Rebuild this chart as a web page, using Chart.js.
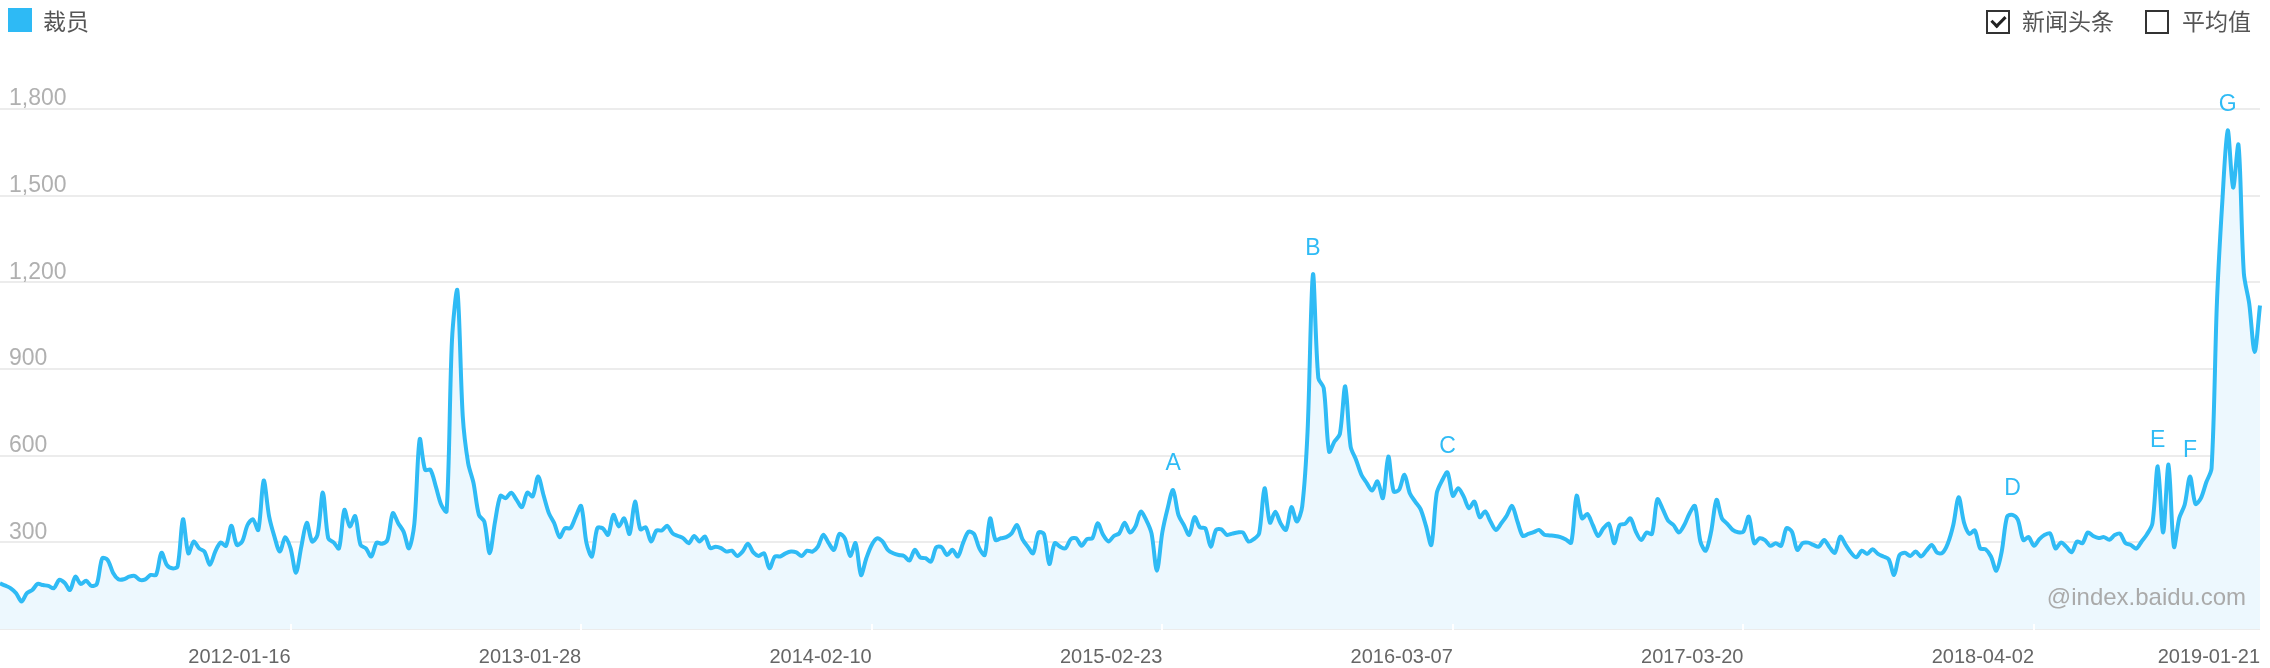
<!DOCTYPE html>
<html>
<head>
<meta charset="utf-8">
<script src="https://cdn.jsdelivr.net/npm/chart.js@4.4.1/dist/chart.umd.min.js"></script>
<style>
html,body{margin:0;padding:0;background:#fff;}
#wrap{position:relative;width:2270px;height:668px;overflow:hidden;font-family:"Liberation Sans",Arial,"Noto Sans CJK SC",sans-serif;}
#wrap canvas{position:absolute;left:0;top:0;}
.sq{position:absolute;left:8px;top:8px;width:24px;height:24px;background:#2ebaf5;}
.lg{position:absolute;top:7px;font-size:23px;line-height:26px;color:#555;font-family:"Noto Sans CJK SC",sans-serif;white-space:nowrap;}
.cb{position:absolute;top:10px;width:20px;height:20px;border:2px solid #333;background:#fff;}
.ck{position:absolute;left:6px;top:1px;width:6px;height:11px;border-right:3px solid #222;border-bottom:3px solid #222;transform:rotate(45deg);}
.wm{position:absolute;left:2040px;top:583px;width:206px;text-align:right;font-size:24px;color:#aaa;font-family:"Liberation Sans",Arial,sans-serif;}
</style>
</head>
<body>
<div id="wrap">
  <canvas id="c" width="2270" height="668"></canvas>
  <div class="sq"></div>
  <div class="lg" style="left:43px;">裁员</div>
  <div class="cb" style="left:1986px;"><div class="ck"></div></div>
  <div class="lg" style="left:2022px;">新闻头条</div>
  <div class="cb" style="left:2145px;"></div>
  <div class="lg" style="left:2182px;">平均值</div>
  <div class="wm">@index.baidu.com</div>
</div>
<script>
// ---- data (weekly search index for "裁员", from 2011-01-03) ----
const startDate = '2011-01-03';
const seriesName = '裁员';
const values2011 = [158,150,141,124,95,124,135,156,152,149,141,170,160,135,181,156,167,149,156,245,239,195,172,172,181,184,170,172,187,187,264,222,210,216,380,262,303,279,268,222,268,299,288,357,291,303,360,380,343,514,391,320,268,318];
const values2012 = [279,195,285,368,303,326,472,314,300,279,412,355,391,291,279,251,299,295,308,401,366,337,279,364,657,551,551,493,430,407,1001,1172,736,574,505,395,372,262,372,461,453,472,447,422,472,459,528,464,401,366,318,349,349,389];
const values2013 = [426,297,251,349,349,326,395,355,383,329,441,345,352,303,341,341,357,331,322,314,297,322,303,320,280,285,280,268,271,253,268,295,265,253,262,210,251,251,262,268,265,253,271,268,285,326,297,274,329,314,253,297,187,245];
const values2014 = [291,314,303,274,262,256,253,237,274,248,245,233,283,283,256,274,251,299,337,329,279,256,383,308,314,318,331,360,311,285,262,334,329,225,297,285,279,311,314,288,311,314,366,326,303,322,331,368,334,355,406,378,331,202];
const values2015 = [334,418,481,395,360,326,387,352,349,285,343,345,326,330,334,334,303,311,331,487,368,406,365,343,422,372,424,684,1227,869,834,614,649,675,840,632,586,534,505,479,511,453,597,476,482,534,470,441,415,357,291,470,514,542];
const values2016 = [461,487,459,418,441,387,407,372,343,366,392,426,372,322,329,335,343,326,324,322,318,310,299,461,383,398,360,322,349,364,297,360,364,383,337,308,334,329,449,415,375,360,334,360,401,426,303,271,337,447,383,364,343,335];
const values2017 = [337,389,297,314,308,288,297,288,349,337,274,297,299,291,285,308,283,264,320,291,264,248,271,260,276,260,251,241,187,256,264,253,268,251,271,291,264,264,297,360,456,368,329,341,279,276,251,202,268,389,395,378,308,318];
const values2018 = [288,311,326,331,279,299,285,266,303,297,334,322,315,318,309,325,330,297,291,278,303,328,365,563,334,569,285,384,430,528,433,452,507,557,1132,1480,1726,1528,1676,1231,1126,959,1120];
const seriesValues = [].concat(values2011, values2012, values2013, values2014, values2015, values2016, values2017, values2018);

const tickLabels = ['2012-01-16','2013-01-28','2014-02-10','2015-02-23','2016-03-07','2017-03-20','2018-04-02','2019-01-21'];
const yTicks = [0, 300, 600, 900, 1200, 1500, 1800];
const newsLetters = ['A','B','C','D','E','F','G'];
const newsWeeks = [218, 244, 269, 374, 401, 407, 414];

// categories: one per week
const categories = [];
(function(){
  const d0 = new Date(startDate + 'T00:00:00Z');
  for (let i = 0; i < seriesValues.length; i++) {
    const d = new Date(d0.getTime() + i * 7 * 86400000);
    categories.push(d.toISOString().slice(0, 10));
  }
})();
const tickSet = new Set(tickLabels);

const LINE = '#2fbbf5';
const FONT = '"Liberation Sans", Arial, sans-serif';

const newsPlugin = {
  id: 'news',
  afterDatasetsDraw(chart) {
    const {ctx, scales: {x, y}} = chart;
    ctx.save();
    ctx.font = '23px ' + FONT;
    ctx.fillStyle = LINE;
    ctx.textAlign = 'center';
    ctx.textBaseline = 'middle';
    newsWeeks.forEach((w, k) => {
      ctx.fillText(newsLetters[k], x.getPixelForValue(w), y.getPixelForValue(seriesValues[w]) - 26);
    });
    ctx.restore();
  }
};
const notchPlugin = {
  id: 'notch',
  afterDraw(chart) {
    const {ctx, scales: {x}, chartArea} = chart;
    ctx.save();
    ctx.fillStyle = '#ffffff';
    categories.forEach((c, i) => {
      if (tickSet.has(c) && i < categories.length - 1) {
        const px = Math.round(x.getPixelForValue(i));
        ctx.fillRect(px - 1, chartArea.bottom - 5, 2, 7);
      }
    });
    ctx.restore();
  }
};

new Chart(document.getElementById('c'), {
  type: 'line',
  data: {
    labels: categories,
    datasets: [{
      label: seriesName,
      data: seriesValues,
      borderColor: LINE,
      borderWidth: 4,
      backgroundColor: '#edf8fe',
      fill: 'origin',
      pointRadius: 0,
      pointHoverRadius: 0,
      tension: 0.3
    }]
  },
  options: {
    responsive: false,
    animation: false,
    events: [],
    layout: {padding: {top: 109, right: 10, left: 0, bottom: 0}},
    plugins: {legend: {display: false}, tooltip: {enabled: false}},
    scales: {
      x: {
        grid: {display: false},
        border: {display: false},
        afterFit: (s) => { s.height = 39; s.paddingLeft = 0; s.paddingRight = 0; },
        ticks: {
          autoSkip: false,
          maxRotation: 0,
          minRotation: 0,
          align: 'end',
          padding: 8,
          color: '#666',
          font: {family: FONT, size: 20},
          callback: function(v, i) { return tickSet.has(categories[i]) ? categories[i] : ''; }
        }
      },
      y: {
        min: yTicks[0],
        max: yTicks[yTicks.length - 1],
        afterBuildTicks: (scale) => { scale.ticks = yTicks.map(v => ({value: v})); },
        afterFit: (s) => { s.width = 0; s.paddingTop = 0; s.paddingBottom = 0; },
        border: {display: false},
        grid: {color: '#ececec', lineWidth: 2, drawTicks: false},
        ticks: {
          mirror: true,
          padding: 9,
          labelOffset: -10,
          color: '#b0b0b0',
          font: {family: FONT, size: 23},
          callback: (v) => v === 0 ? '' : v.toLocaleString('en-US')
        }
      }
    }
  },
  plugins: [newsPlugin, notchPlugin]
});
</script>
</body>
</html>
